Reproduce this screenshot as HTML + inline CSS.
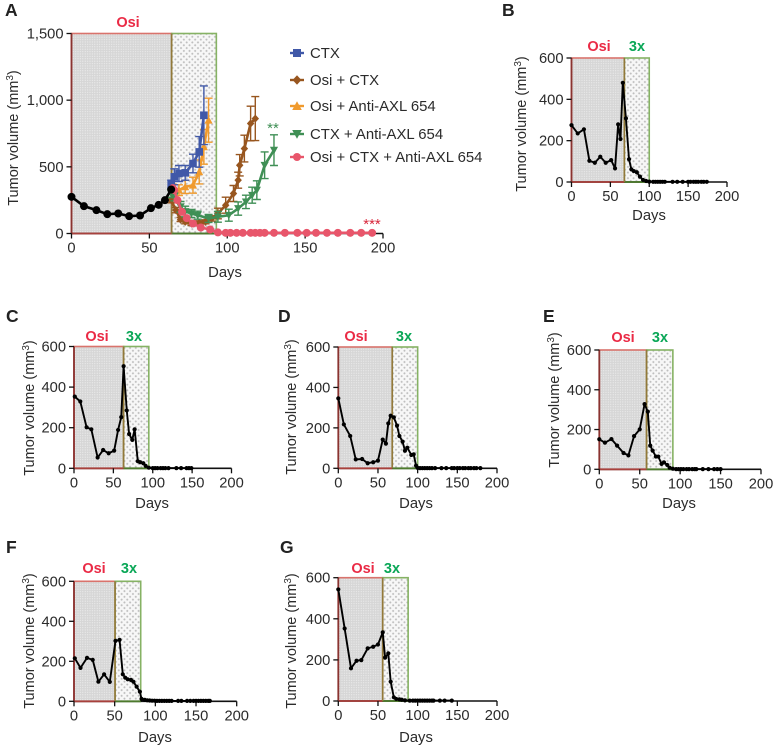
<!DOCTYPE html>
<html lang="en">
<head>
<meta charset="utf-8">
<title>Tumor volume panels</title>
<style>
html,body{margin:0;padding:0;background:#fff;}
svg{display:block;filter:blur(0.3px);}
text{font-family:"Liberation Sans",sans-serif;fill:#2b2b2b;}
.tick{font-size:14.7px;}
.letter{font-size:17.5px;font-weight:bold;fill:#222;}
.tag{font-size:14.5px;font-weight:bold;}
</style>
</head>
<body>
<svg id="figure" xmlns="http://www.w3.org/2000/svg" width="773" height="745" viewBox="0 0 773 745">
<defs>
<pattern id="dotsDense" width="2.4" height="2.4" patternUnits="userSpaceOnUse">
<rect width="2.4" height="2.4" fill="#d6d6d6"/>
<circle cx="1.2" cy="1.2" r="0.55" fill="#f2f2f2"/>
</pattern>
<pattern id="dotsSparse" width="4" height="4" patternUnits="userSpaceOnUse" patternTransform="rotate(45)">
<rect width="4" height="4" fill="#f7f7f7"/>
<circle cx="2" cy="2" r="1" fill="#bdbdbd"/>
</pattern>
</defs>
</svg>
<script>
/* Panel A data */
const panelAXTicks = [0, 50, 100, 150, 200];
const panelAYTicks = [0, 500, 1000, 1500];
const panelAYLabels = ["0", "500", "1,000", "1,500"];
const baselineDays = [0, 8, 16, 23, 30, 37, 44, 51, 56, 60, 64];
const baselineValues = [275, 205, 175, 145, 150, 130, 135, 190, 215, 250, 330];
const ctxDays = [64, 66, 69, 73, 78, 82, 85];
const ctxValues = [370, 425, 450, 455, 525, 612, 887];
const ctxErrors = [30, 60, 60, 55, 70, 115, 220];
const osiCtxDays = [64, 67, 70, 73, 77, 82, 86, 90, 94, 99, 104, 107, 108, 111, 115, 118];
const osiCtxValues = [250, 175, 105, 88, 75, 80, 88, 113, 150, 212, 300, 400, 512, 637, 825, 862];
const osiCtxErrors = [20, 20, 15, 15, 15, 15, 15, 20, 40, 60, 60, 60, 80, 100, 130, 165];
const osiAxlDays = [65, 69, 73, 78, 82, 85, 88];
const osiAxlValues = [340, 325, 350, 362, 462, 650, 850];
const osiAxlErrors = [30, 40, 50, 60, 90, 130, 165];
const ctxAxlDays = [64, 66, 70, 73, 77, 81, 88, 94, 101, 107, 112, 116, 119, 124, 130];
const ctxAxlValues = [300, 275, 200, 165, 150, 137, 113, 125, 137, 187, 237, 287, 325, 512, 625];
const ctxAxlErrors = [30, 30, 40, 40, 30, 30, 30, 40, 45, 50, 50, 60, 70, 100, 115];
const tripleDays = [65, 66, 68, 71, 74, 78, 83, 89, 94, 99, 102, 106, 110, 115, 118, 121, 124, 130, 137, 145, 151, 157, 164, 171, 179, 186, 193];
const tripleValues = [340, 325, 250, 162, 115, 75, 45, 30, 8, 5, 5, 5, 5, 5, 5, 5, 5, 5, 5, 5, 5, 5, 5, 5, 5, 5, 5];
const legendLabels = ["CTX", "Osi + CTX", "Osi + Anti-AXL 654", "CTX + Anti-AXL 654", "Osi + CTX + Anti-AXL 654"];

/* Panels B-G data */
const smallXTicks = [0, 50, 100, 150, 200];
const smallYTicks = [0, 200, 400, 600];
const panelBDays = [0, 8, 16, 23, 30, 37, 44, 51, 56, 60, 63, 66, 70, 74, 77, 80, 84, 88, 92, 96, 100, 105, 108, 111, 114, 117, 120, 130, 136, 143, 150, 153, 157, 160, 163, 167, 170, 174];
const panelBValues = [275, 235, 255, 103, 93, 122, 93, 106, 66, 279, 208, 480, 308, 110, 61, 53, 47, 26, 10, 5, 2, 1, 1, 1, 1, 1, 1, 1, 1, 1, 1, 1, 1, 1, 1, 1, 1, 1];
const panelCDays = [1, 8, 16, 22, 30, 37, 44, 51, 56, 60, 63, 67, 70, 74, 77, 81, 84, 88, 91, 95, 100, 103, 106, 110, 113, 116, 120, 130, 136, 143, 146, 149];
const panelCValues = [353, 329, 202, 192, 53, 90, 74, 87, 189, 252, 503, 285, 169, 140, 192, 35, 30, 25, 12, 3, 1, 1, 1, 1, 1, 1, 1, 1, 1, 1, 1, 1];
const panelDDays = [0, 7, 15, 22, 30, 37, 44, 50, 56, 60, 63, 66, 70, 74, 77, 81, 84, 87, 92, 95, 98, 100, 103, 106, 109, 112, 115, 118, 122, 130, 136, 143, 146, 150, 153, 157, 160, 164, 167, 171, 174, 179];
const panelDValues = [346, 217, 160, 44, 46, 25, 30, 38, 142, 122, 222, 260, 252, 211, 160, 132, 87, 102, 66, 69, 13, 2, 1, 1, 1, 1, 1, 1, 1, 1, 1, 1, 1, 1, 1, 1, 1, 1, 1, 1, 1, 1];
const panelEDays = [0, 7, 15, 22, 30, 36, 43, 50, 56, 60, 63, 66, 70, 73, 77, 80, 84, 87, 91, 95, 98, 101, 104, 108, 111, 115, 118, 120, 128, 135, 142, 146, 150];
const panelEValues = [151, 134, 152, 119, 82, 70, 167, 201, 328, 290, 119, 94, 64, 64, 27, 35, 22, 8, 3, 1, 1, 1, 1, 1, 1, 1, 1, 1, 1, 1, 1, 1, 1];
const panelFDays = [1, 8, 16, 23, 30, 37, 44, 51, 56, 60, 63, 66, 70, 73, 77, 81, 83, 87, 90, 93, 96, 99, 102, 105, 108, 111, 114, 117, 120, 128, 132, 139, 143, 147, 150, 153, 156, 159, 162, 165, 167];
const panelFValues = [215, 167, 217, 207, 98, 135, 97, 302, 307, 135, 118, 110, 107, 98, 73, 48, 12, 7, 5, 4, 3, 3, 2, 2, 2, 2, 2, 2, 2, 2, 2, 2, 2, 2, 2, 2, 2, 2, 2, 2, 2];
const panelGDays = [0, 8, 16, 23, 29, 37, 44, 50, 56, 59, 63, 66, 70, 73, 77, 80, 84, 90, 94, 97, 100, 103, 106, 109, 112, 115, 118, 120, 128, 134, 143];
const panelGValues = [543, 353, 159, 196, 199, 256, 264, 275, 334, 211, 232, 94, 18, 10, 8, 6, 3, 2, 2, 2, 2, 2, 2, 2, 2, 2, 2, 2, 2, 2, 2];

const SVG_NS = "http://www.w3.org/2000/svg";
const figure = document.getElementById("figure");

function make(tag, parent, attrs, txt) {
  const node = document.createElementNS(SVG_NS, tag);
  for (const key in attrs) node.setAttribute(key, attrs[key]);
  if (txt !== undefined) node.textContent = txt;
  parent.appendChild(node);
  return node;
}

function drawFrame(g, cfg, sx, sy) {
  const x0 = sx(0), xA = sx(cfg.osiEnd), xB = sx(cfg.greenEnd), yT = sy(cfg.yMax), yB = sy(0);

  const yTitle = make("text", g, {transform: "translate(" + cfg.titleX + "," + cfg.titleY + ") rotate(-90)", "text-anchor": "middle", "font-size": "14.5"});
  
  
  yTitle.appendChild(document.createTextNode("Tumor volume (mm"));
  make("tspan", yTitle, {dy: "-5", "font-size": "10"}, "3");
  make("tspan", yTitle, {dy: "5"}, ")");

  const xTitle = make("text", g, {x: cfg.daysX, y: cfg.daysY, "text-anchor": "middle", "font-size": "14.8"}, "Days");
  
  

  const osiRegion = make("rect", g, {x: x0, y: yT, width: xA - x0, height: yB - yT, fill: "url(#dotsDense)", stroke: "#d9736c", "stroke-width": "1.6"});
  
  

  const comboRegion = make("rect", g, {x: xA, y: yT, width: xB - xA, height: yB - yT, fill: "url(#dotsSparse)", stroke: "#86b264", "stroke-width": "1.6"});
  
  

  const xAxis = make("path", g, {d: "M" + x0 + " " + yB + "H" + sx(200), stroke: "#111", "stroke-width": "1.6", fill: "none"});
  
  
  make("path", g, {d: "M" + x0 + " " + yB + "H" + xA, stroke: "#a8413c", "stroke-width": "1.8", fill: "none"});
  make("path", g, {d: "M" + xA + " " + yB + "H" + xB, stroke: "#4d7a2d", "stroke-width": "1.8", fill: "none"});

  const yAxis = make("path", g, {d: "M" + x0 + " " + yB + "V" + yT, stroke: "#8a3330", "stroke-width": "1.8", fill: "none"});
  
  
  make("path", g, {d: "M" + xA + " " + yT + "V" + yB, stroke: "#93793a", "stroke-width": "1.6", fill: "none"});

  cfg.xTicks.forEach(function (tick) {
    make("path", g, {d: "M" + sx(tick) + " " + yB + "v5", stroke: "#111", "stroke-width": "1.3"});
    const label = make("text", g, {x: sx(tick), y: yB + 19, "text-anchor": "middle", "class": "tick"}, String(tick));
    
    
  });
  cfg.yTicks.forEach(function (tick, i) {
    make("path", g, {d: "M" + x0 + " " + sy(tick) + "h-5", stroke: "#111", "stroke-width": "1.3"});
    const label = make("text", g, {x: x0 - 8, y: sy(tick) + 5, "text-anchor": "end", "class": "tick"}, cfg.yLabels[i]);
    
    
  });

  const letter = make("text", g, {x: cfg.letterX, y: cfg.letterY, "class": "letter"}, cfg.letter);
  
  

  const osiTag = make("text", g, {x: cfg.osiX, y: cfg.tagY, "text-anchor": "middle", "class": "tag", fill: "#ea2a45", style: "fill:#ea2a45"}, "Osi");
  
  

  if (cfg.comboX) {
    const comboTag = make("text", g, {x: cfg.comboX, y: cfg.tagY, "text-anchor": "middle", "class": "tag", style: "fill:#0aa757"}, "3x");
    
    
  }
}

function drawMarker(g, shape, x, y, r, color) {
  if (shape === "circle") return make("circle", g, {cx: x, cy: y, r: r, fill: color});
  if (shape === "square") return make("rect", g, {x: x - r, y: y - r, width: 2 * r, height: 2 * r, fill: color});
  let pts = "";
  if (shape === "diamond") pts = [x, y - r * 1.2, x + r * 1.1, y, x, y + r * 1.2, x - r * 1.1, y].join(",");
  if (shape === "up") pts = [x, y - r * 1.2, x + r * 1.2, y + r, x - r * 1.2, y + r].join(",");
  if (shape === "down") pts = [x, y + r * 1.2, x + r * 1.2, y - r, x - r * 1.2, y - r].join(",");
  return make("polygon", g, {points: pts, fill: color});
}

function drawSeries(parent, name, days, values, errors, sx, sy, style) {
  const g = make("g", parent, {});
  
  
  if (errors) {
    days.forEach(function (d, i) {
      const x = sx(d), hi = sy(values[i] + errors[i]), lo = sy(Math.max(0, values[i] - errors[i]));
      make("path", g, {d: "M" + x + " " + lo + "V" + hi + "M" + (x - 4) + " " + hi + "h8M" + (x - 4) + " " + lo + "h8", stroke: style.color, "stroke-width": "1.4", fill: "none"});
    });
  }
  const points = days.map(function (d, i) { return sx(d) + "," + sy(values[i]); }).join(" ");
  make("polyline", g, {points: points, fill: "none", stroke: style.color, "stroke-width": style.width, "stroke-linejoin": "round"});
  days.forEach(function (d, i) {
    const mark = drawMarker(g, style.shape, sx(d), sy(values[i]), style.r, style.color);
    
    
  });
}

function scaleX(cfg) { return function (v) { return cfg.left + (v / 200) * (cfg.right - cfg.left); }; }
function scaleY(cfg) { return function (v) { return cfg.bottom - (v / cfg.yMax) * (cfg.bottom - cfg.top); }; }

/* Panel A */
const configA = {left: 71.5, right: 383, top: 33.5, bottom: 233.5, yMax: 1500, osiEnd: 64.3, greenEnd: 93,
  xTicks: panelAXTicks, yTicks: panelAYTicks, yLabels: panelAYLabels, letter: "A", letterX: 5, letterY: 16,
  titleX: 18, titleY: 138, daysX: 225, daysY: 277, osiX: 128, tagY: 27};
const panelA = make("g", figure, {});


const sxA = scaleX(configA), syA = scaleY(configA);
drawFrame(panelA, configA, sxA, syA);
const styleOrange = {color: "#f09a2d", shape: "up", r: 3.4, width: 2.6};
const styleBlue = {color: "#4058a8", shape: "square", r: 3.8, width: 2.6};
const styleBrown = {color: "#98561f", shape: "diamond", r: 3.4, width: 2.6};
const styleGreen = {color: "#3f8f55", shape: "down", r: 3.4, width: 2.6};
const stylePink = {color: "#e8566b", shape: "circle", r: 4, width: 2.6};
const styleBlack = {color: "#000", shape: "circle", r: 4, width: 2.6};
drawSeries(panelA, "series-osi-anti-axl", osiAxlDays, osiAxlValues, osiAxlErrors, sxA, syA, styleOrange);
drawSeries(panelA, "series-ctx", ctxDays, ctxValues, ctxErrors, sxA, syA, styleBlue);
drawSeries(panelA, "series-osi-ctx", osiCtxDays, osiCtxValues, osiCtxErrors, sxA, syA, styleBrown);
drawSeries(panelA, "series-ctx-anti-axl", ctxAxlDays, ctxAxlValues, ctxAxlErrors, sxA, syA, styleGreen);
drawSeries(panelA, "series-osi-ctx-anti-axl", tripleDays, tripleValues, null, sxA, syA, stylePink);
drawSeries(panelA, "series-baseline", baselineDays, baselineValues, null, sxA, syA, styleBlack);

const greenStars = make("text", panelA, {x: 273, y: 133, "text-anchor": "middle", "font-size": "15", style: "fill:#3f8f55"}, "**");


const redStars = make("text", panelA, {x: 372, y: 229, "text-anchor": "middle", "font-size": "15", style: "fill:#d8283c"}, "***");



/* Legend */
const legendStyles = [styleBlue, styleBrown, styleOrange, styleGreen, stylePink];
const legendRows = [53, 80, 106, 134, 157];
const legend = make("g", figure, {});


legendLabels.forEach(function (label, i) {
  const row = make("g", legend, {});
  
  
  const st = legendStyles[i], y = legendRows[i];
  make("path", row, {d: "M290 " + y + "h14", stroke: st.color, "stroke-width": "2.4"});
  drawMarker(row, st.shape, 297, y, 4, st.color);
  make("text", row, {x: 310, y: y + 5, "font-size": "14.9"}, label);
});

/* Small panels */
const smallPanels = [
  {letter: "B", days: panelBDays, values: panelBValues, left: 571.5, right: 727, top: 58, bottom: 182, osiEnd: 68, greenEnd: 100, letterX: 502, letterY: 16, titleX: 526, titleY: 124, daysX: 649, daysY: 220, osiX: 599, comboX: 637, tagY: 51},
  {letter: "C", days: panelCDays, values: panelCValues, left: 74, right: 231.5, top: 346.5, bottom: 468.3, osiEnd: 63, greenEnd: 95, letterX: 6, letterY: 322, titleX: 34, titleY: 408, daysX: 152, daysY: 508, osiX: 97, comboX: 134, tagY: 341},
  {letter: "D", days: panelDDays, values: panelDValues, left: 338.3, right: 497, top: 347, bottom: 468.3, osiEnd: 68, greenEnd: 100, letterX: 278, letterY: 322, titleX: 296, titleY: 407, daysX: 416, daysY: 508, osiX: 356, comboX: 404, tagY: 341},
  {letter: "E", days: panelEDays, values: panelEValues, left: 599.3, right: 761, top: 350, bottom: 469.3, osiEnd: 58.5, greenEnd: 91, letterX: 543, letterY: 322, titleX: 559, titleY: 400, daysX: 679, daysY: 508, osiX: 623, comboX: 660, tagY: 342},
  {letter: "F", days: panelFDays, values: panelFValues, left: 74, right: 236.7, top: 581.3, bottom: 701.3, osiEnd: 50.5, greenEnd: 82, letterX: 6, letterY: 553, titleX: 34, titleY: 641, daysX: 155, daysY: 742, osiX: 94, comboX: 129, tagY: 573},
  {letter: "G", days: panelGDays, values: panelGValues, left: 338.3, right: 497, top: 577.7, bottom: 701, osiEnd: 56, greenEnd: 88, letterX: 280, letterY: 553, titleX: 296, titleY: 641, daysX: 416, daysY: 742, osiX: 363, comboX: 392, tagY: 573}
];
smallPanels.forEach(function (p) {
  p.yMax = 600;
  p.xTicks = smallXTicks;
  p.yTicks = smallYTicks;
  p.yLabels = smallYTicks.map(String);
  const g = make("g", figure, {});
  
  
  const sx = scaleX(p), sy = scaleY(p);
  drawFrame(g, p, sx, sy);
  drawSeries(g, "tumor-volume-series", p.days, p.values, null, sx, sy, {color: "#000", shape: "circle", r: 2.1, width: 1.9});
});
</script>
</body>
</html>
